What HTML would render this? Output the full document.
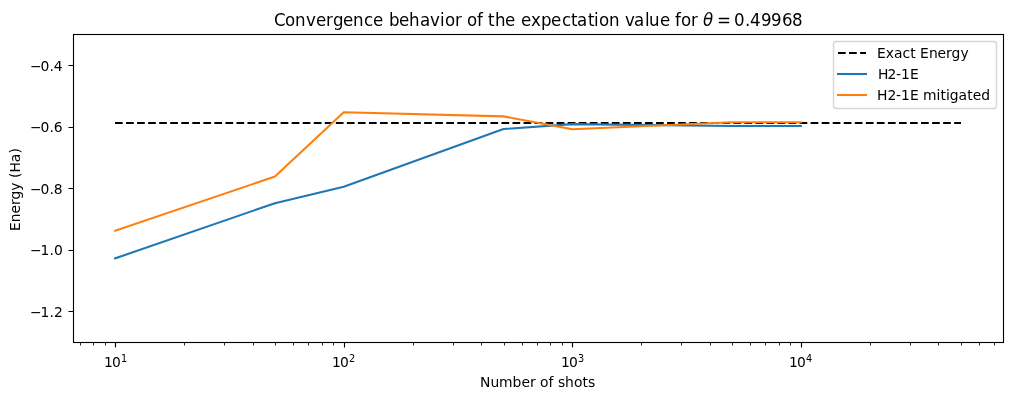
<!DOCTYPE html>
<html lang="en">
<head>
<meta charset="utf-8">
<title>Convergence behavior of the expectation value</title>
<style>
html, body { margin: 0; padding: 0; background: #ffffff; }
body { width: 1012px; height: 400px; overflow: hidden; position: relative; }
#chart { display: block; position: absolute; left: 0; top: 0; width: 1012px; height: 400px; }
text { font-family: "DejaVu Sans", "Liberation Sans", sans-serif; font-size: 13.8889px; fill: #000000; white-space: pre; }
.title { font-size: 17.5px; }
.sup { font-size: 9.7222px; }
.it { font-style: oblique; }
.spine { fill: none; stroke: #000000; stroke-width: 1.1111; }
.major { fill: none; stroke: #000000; stroke-width: 1.1111; }
.minor { fill: none; stroke: #000000; stroke-width: 0.8333; }
.line { fill: none; stroke-width: 2.0833; stroke-linejoin: round; stroke-linecap: square; }
.dash { fill: none; stroke: #000000; stroke-width: 2.0833; stroke-dasharray: 7.7083 3.3333; }
.blue { stroke: #1f77b4; }
.orange { stroke: #ff7f0e; }
.legend-box { fill: #ffffff; fill-opacity: 0.8; stroke: #cccccc; stroke-opacity: 0.8; stroke-width: 1.3889; }
</style>
</head>
<body>
<svg id="chart" width="1012" height="400" viewBox="0 0 1012 400">
<rect x="0" y="0" width="1012" height="400" fill="#ffffff"/>
<g id="title">
<text class="title" transform="scale(0.952381 1)" x="287.7 299.25 309.75 321.3 331.8 342.3 349.65 360.15 370.65 382.2 391.65 402.15 408.45 418.95 429.45 441 451.5 462 467.25 477.75 485.1 490.35 500.85 507.15 512.4 519.75 530.25 541.8 547.05 557.55 568.05 578.55 590.1 599.55 605.85 617.4 623.7 628.95 639.45 649.95 656.25 665.7 677.25 681.45 693 703.5 708.75 715.05 725.55 732.9" y="26">Convergence behavior of the expectation value for <tspan class="it" x="738.15">θ</tspan><tspan x="752.85 770.7 782.25 787.5 799.05 809.55 821.1 831.6">=0.49968</tspan></text>
</g>
<g id="x-axis">
<path class="minor" d="M80.5 342.83V345.5M93.5 342.83V345.5M105.5 342.83V345.5M184.5 342.83V345.5M224.5 342.83V345.5M253.5 342.83V345.5M275.5 342.83V345.5M293.5 342.83V345.5M308.5 342.83V345.5M322.5 342.83V345.5M333.5 342.83V345.5M413.5 342.83V345.5M453.5 342.83V345.5M481.5 342.83V345.5M504.5 342.83V345.5M522.5 342.83V345.5M537.5 342.83V345.5M550.5 342.83V345.5M562.5 342.83V345.5M641.5 342.83V345.5M681.5 342.83V345.5M710.5 342.83V345.5M732.5 342.83V345.5M750.5 342.83V345.5M765.5 342.83V345.5M779.5 342.83V345.5M790.5 342.83V345.5M870.5 342.83V345.5M910.5 342.83V345.5M938.5 342.83V345.5M961.5 342.83V345.5M979.5 342.83V345.5M994.5 342.83V345.5"/>
<path class="major" d="M115.5 343V347.5M344.5 343V347.5M572.5 343V347.5M801.5 343V347.5"/>
<text x="104 112" y="367">10<tspan class="sup" x="121" y="362">1</tspan></text>
<text x="332 340" y="367">10<tspan class="sup" x="349" y="362">2</tspan></text>
<text x="561 569" y="367">10<tspan class="sup" x="578" y="362">3</tspan></text>
<text x="789 797" y="367">10<tspan class="sup" x="806" y="362">4</tspan></text>
<text x="480 490.38 499.12 512.62 521.5 530 535.75 540.12 548.62 553.62 558 565.12 573.88 582.38 587.88" y="387">Number of shots</text>
</g>
<g id="y-axis">
<path class="major" d="M68.5 65.5H73M68.5 127.5H73M68.5 188.5H73M68.5 250.5H73M68.5 311.5H73"/>
<text x="30 40.62 49.38 53.75" y="71">−0.4</text>
<text x="30 40.62 49.38 53.75" y="132">−0.6</text>
<text x="30 40.62 49.38 53.75" y="194">−0.8</text>
<text x="30 40.62 49.5 53.88" y="255">−1.0</text>
<text x="30 40.62 49.5 53.88" y="317">−1.2</text>
<text transform="translate(20 231) rotate(-90)" x="0 8.75 17.5 26 31.5 40.38 48.62 53 58.5 68.88 77.5" y="0">Energy (Ha)</text>
</g>
<g id="series">
<path class="dash" d="M115 123H961"/>
<path class="line blue" d="M115.18 258.35 L274.94 203.21 L343.74 186.8 L503.5 128.99 L572.31 124.09 L732.07 126.06 L800.87 126"/>
<path class="line orange" d="M115.18 230.78 L274.94 176.57 L343.74 112.23 L503.5 116.36 L572.31 129.29 L732.07 122.21 L800.87 122.21"/>
</g>
<rect class="spine" x="73.5" y="34.5" width="930" height="308"/>
<g id="legend">
<rect class="legend-box" x="833.5" y="41.5" width="163" height="67" rx="2.78" ry="2.78"/>
<path class="dash" d="M838 53H866"/>
<text x="877 885.75 894 902.62 910.25 915.75 920.12 928.88 937.62 946.12 951.62 960.5" y="58">Exact Energy</text>
<path class="line blue" d="M838 74H866"/>
<text x="878 887.38 896.12 901 909.88" y="79">H2-1E</text>
<path class="line orange" d="M838 95H866"/>
<text x="877 887.38 896.12 901 909.88 918.62 923 936.5 940.38 945.88 949.75 958.62 967.25 972.75 981.25" y="100">H2-1E mitigated</text>
</g>
</svg>
</body>
</html>
